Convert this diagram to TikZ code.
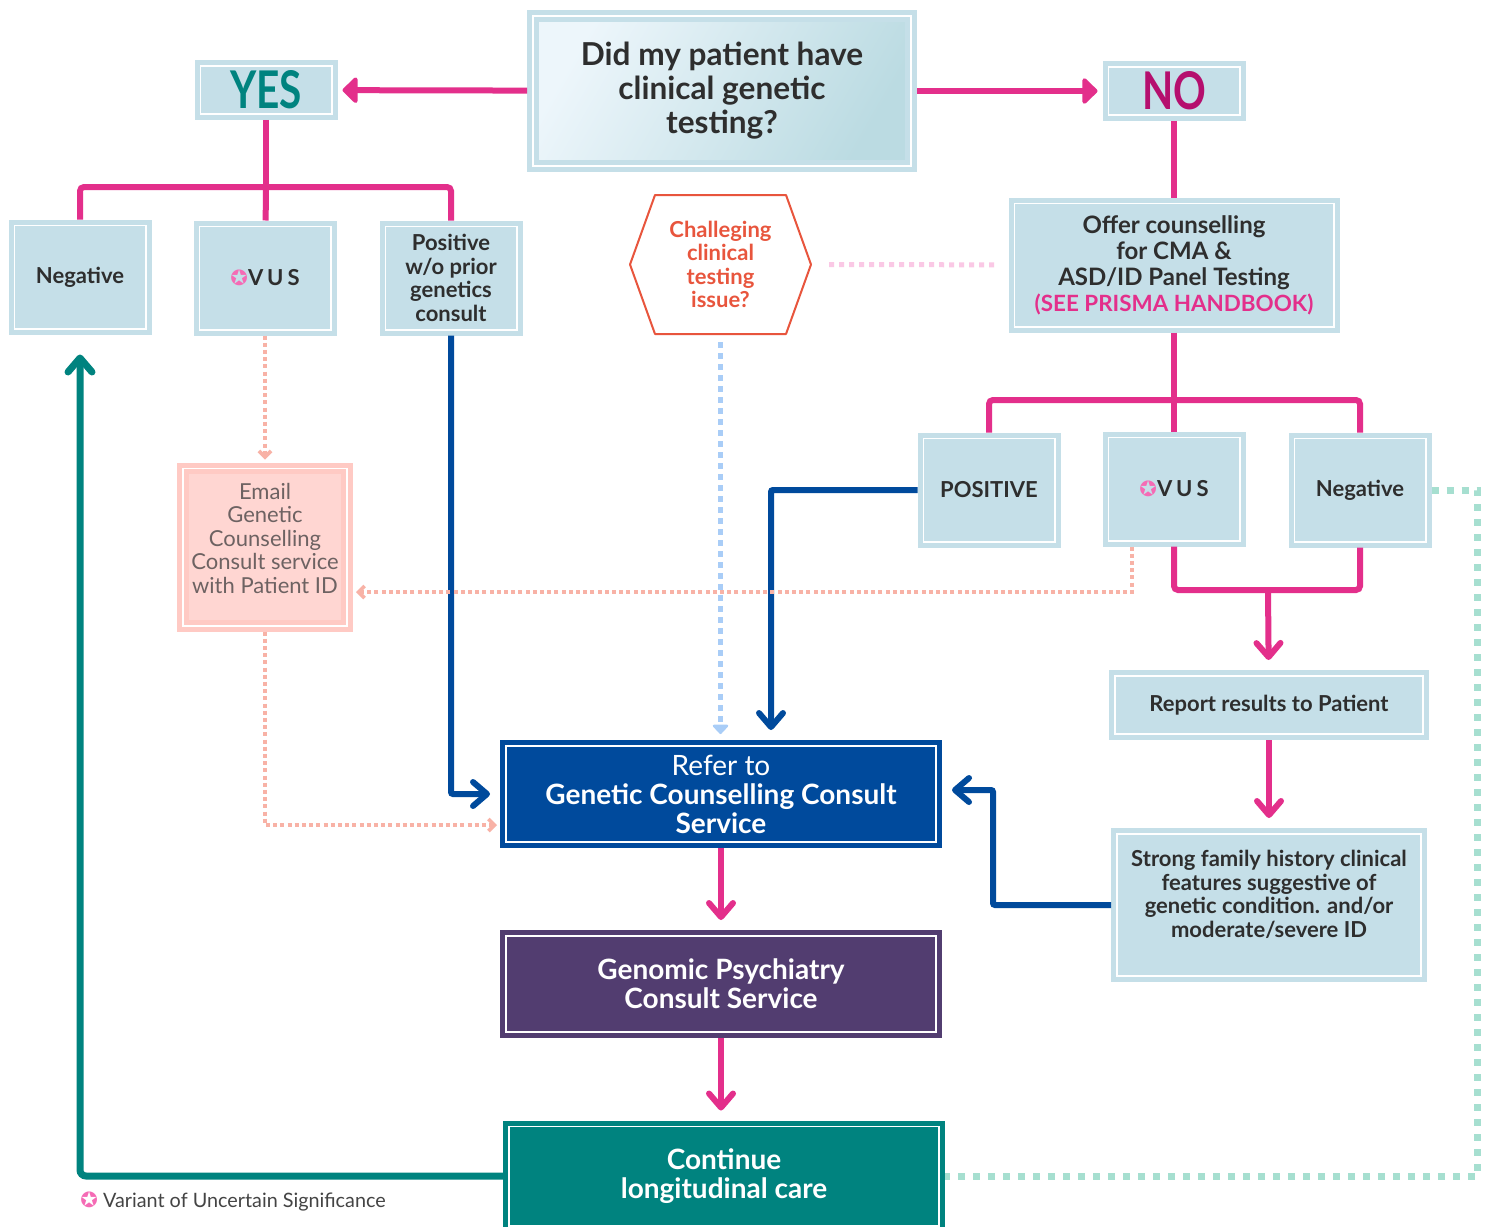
\documentclass[tikz,border=0pt]{standalone}
\usepackage{xcolor}
\usepackage{tikz}
\usepackage{fontspec}
\setmainfont{Lato}
\newfontfamily\yesnofont{Lato}[FakeStretch=0.78]
\newfontfamily\symfont{DejaVu Sans}
\usetikzlibrary{shapes,arrows,arrows.meta,positioning,calc}

\definecolor{boxblue}{HTML}{C5DFE8}
\definecolor{linepink}{HTML}{E32F8B}
\definecolor{textdark}{HTML}{2E2E2E}
\definecolor{yesteal}{HTML}{00837F}
\definecolor{nomagenta}{HTML}{B50F6E}
\definecolor{referblue}{HTML}{004A9C}
\definecolor{psychpurple}{HTML}{523D70}
\definecolor{careteal}{HTML}{00837F}
\definecolor{salmon}{HTML}{F8B2A6}
\definecolor{dotblue}{HTML}{A9CDF7}
\definecolor{dotmint}{HTML}{A6DFD0}
\definecolor{dotpink}{HTML}{FAC8E5}
\definecolor{hexred}{HTML}{E8553D}
\definecolor{emailfill}{HTML}{FFD6D2}
\definecolor{emailedge}{HTML}{FFCAC4}
\definecolor{emailtext}{HTML}{6D6262}
\definecolor{vuspink}{HTML}{F56BB5}
\definecolor{qlight}{HTML}{EDF6FB}
\definecolor{qdark}{HTML}{BBDBE2}
\definecolor{legendtext}{HTML}{444444}

\newcommand{\vusicon}{{\symfont\fontsize{10.5}{10}\selectfont\textcolor{vuspink}{✪}}}

\begin{document}
\begin{tikzpicture}[
    x=0.5pt, y=-0.5pt,
    box/.style={fill=boxblue, draw=boxblue, line width=2.5pt, double=white, double distance=0.9pt, outer sep=2.95pt, inner sep=0pt, align=center, text=textdark},
    qbox/.style={box, left color=qlight, right color=qdark, shading angle=60, minimum width=189.1pt, minimum height=75.1pt, font=\bfseries\fontsize{15.8}{17}\selectfont},
    answer/.style={box, minimum width=65.6pt, minimum height=24pt, font=\yesnofont\bfseries\fontsize{26}{26}\selectfont},
    result/.style={box, minimum width=65.6pt, minimum height=51.6pt, font=\bfseries\fontsize{11}{11.75}\selectfont},
    darkbox/.style={box, fill=#1, draw=#1, text=white, minimum width=215.1pt, minimum height=48.1pt, font=\bfseries\fontsize{14}{14.5}\selectfont},
    emailbox/.style={box, fill=emailfill, draw=emailedge, text=emailtext, minimum width=82.1pt, minimum height=78.6pt, font=\fontsize{11}{11.75}\selectfont},
    hexnode/.style={minimum width=90.5pt, minimum height=69.5pt, inner sep=0pt, outer sep=0pt, align=center, text=hexred, font=\bfseries\fontsize{11}{11.75}\selectfont},
    hexline/.style={draw=hexred, line width=1pt, line join=round},
    tree/.style={draw=linepink, line width=3pt, rounded corners=2pt},
    headarrow/.style={draw=linepink, line width=3pt, -{Triangle[length=8pt, width=15pt, round]}, shorten >=2.5pt},
    arrow/.style={line width=3pt, -{Straight Barb[length=7pt, width=12pt, round]}, shorten >=5pt},
    pinkarrow/.style={arrow, draw=linepink},
    bluearrow/.style={arrow, draw=referblue, rounded corners=1pt},
    tealarrow/.style={arrow, draw=careteal, line width=3.5pt, rounded corners=3pt, shorten >=10pt},
    dotsalmon/.style={draw=salmon, line width=1.8pt, dash pattern=on 2pt off 1.6pt, -{Straight Barb[length=3pt, width=6pt]}, shorten >=1.5pt},
    dotblueline/.style={draw=dotblue, line width=2.5pt, dash pattern=on 3pt off 2.5pt, -{Triangle[length=5pt, width=9pt, round]}, shorten >=3pt, shorten <=4pt},
    dotpinkline/.style={draw=dotpink, line width=2.5pt, dash pattern=on 2.5pt off 2.5pt, shorten <=9pt, shorten >=6pt},
    dotmintline/.style={draw=dotmint, line width=3.5pt, dash pattern=on 3.5pt off 4pt},
]
    \useasboundingbox[fill=white] (0,0) rectangle (1492,1226);

    % Question and answers
    \node[qbox] (question) at (722,91) {Did my patient have\\clinical genetic\\testing?};
    \node[answer, text=yesteal] (yes) at (266,90) {YES};
    \node[answer, text=nomagenta] (no) at (1174,91) {NO};

    % YES results
    \node[result] (negA) at (80,277) {Negative};
    \node[result] (vusA) at (265,278) {\vusicon\addfontfeature{LetterSpace=18}VUS};
    \node[result] (posA) at (451,278) {Positive\\w/o prior\\genetics\\consult};

    % Challenging testing
    \node[hexnode] (hex) at (720.5,264.5) {Challeging\\clinical\\testing\\issue?};

    % NO branch
    \node[box, minimum width=159.6pt, minimum height=61.6pt, font=\bfseries\fontsize{12}{13}\selectfont] (offer) at (1174,265) {Offer counselling\\for CMA \&\\ASD/ID Panel Testing\\\textcolor{linepink}{\fontsize{11.2}{13}\selectfont(SEE PRISMA HANDBOOK)}};
    \node[result] (posB) at (989,490) {POSITIVE};
    \node[result] (vusB) at (1174,489) {\vusicon\addfontfeature{LetterSpace=18}VUS};
    \node[result] (negB) at (1360,490) {Negative};
    \node[box, minimum width=154.1pt, minimum height=29.1pt, font=\bfseries\fontsize{11}{11.75}\selectfont] (report) at (1269,705) {Report results to Patient};
    \node[box, minimum width=152.1pt, minimum height=71.1pt, font=\bfseries\fontsize{11}{11.75}\selectfont] (strong) at (1269,905) {Strong family history clinical\\features suggestive of\\genetic condition. and/or\\moderate/severe ID\\[-0.75pt]};

    % Email
    \node[emailbox] (email) at (265,547) {Email\\Genetic\\Counselling\\Consult service\\with Patient ID\\[-2.75pt]};

    % Services
    \node[darkbox=referblue] (refer) at (721,794) {{\mdseries Refer to}\\Genetic Counselling Consult\\Service};
    \node[darkbox=psychpurple] (genomic) at (721,984) {Genomic Psychiatry\\Consult Service};
    \node[darkbox=careteal, minimum height=49.6pt] (care) at (724,1176) {Continue\\longitudinal care};

    % Legend
    \node[anchor=west, inner sep=0pt, text=legendtext, font=\fontsize{9.9}{10}\selectfont] (legend) at (80,1201) {\vusicon\ Variant of Uncertain Significance};

    % Hexagon outline
    \draw[hexline] (hex.west) -- ([xshift=12.5pt]hex.north west) -- ([xshift=-12.5pt]hex.north east) -- (hex.east) -- ([xshift=-12.5pt]hex.south east) -- ([xshift=12.5pt]hex.south west) -- cycle;

    % Question arrows
    \draw[headarrow] (question) -- (yes);
    \draw[headarrow] (question) -- (no);

    % YES tree
    \coordinate (yesbar) at (266,187);
    \draw[tree] (yes) -- (yesbar);
    \draw[tree] (negA) |- (yesbar) -| (posA);
    \draw[tree] (yesbar) -- (vusA);

    % NO tree
    \coordinate (nobar) at (1174,400);
    \draw[tree] (no) -- (offer);
    \draw[tree] (offer) -- (nobar);
    \draw[tree] (posB) |- (nobar) -| (negB);
    \draw[tree] (nobar) -- (vusB);

    % Results to patient
    \coordinate (joinbar) at (1268,590);
    \draw[tree] (vusB) |- (joinbar) -| (negB);
    \draw[pinkarrow] (joinbar) -- (report);
    \draw[pinkarrow] (report) -- (strong);

    % Down the services
    \draw[pinkarrow] (refer) -- (genomic);
    \draw[pinkarrow] (genomic.south) -- (genomic.south |- care.north);

    % Blue referrals
    \draw[bluearrow] (posA) |- (refer);
    \draw[bluearrow] (posB) -| ([xshift=25pt]refer.north);
    \draw[bluearrow] (strong.west) -- ++(-59pt,0) |- ([yshift=2pt]refer.east);

    % Dotted connections
    \draw[dotblueline] (hex.south) -- (hex.south |- refer.north);
    \draw[dotpinkline] (hex) -- (offer);
    \draw[dotsalmon] (vusA) -- (email);
    \draw[dotsalmon] ([xshift=-21pt]vusB.south) |- ([yshift=-22.5pt]email.east);
    \draw[dotsalmon] (email.south) |- ([yshift=-15.5pt]refer.west);
    \draw[dotmintline] (negB.east) -- ++(23pt,0) |- (care);

    % Back to care
    \draw[tealarrow] (care) -| (negA);
\end{tikzpicture}
\end{document}
